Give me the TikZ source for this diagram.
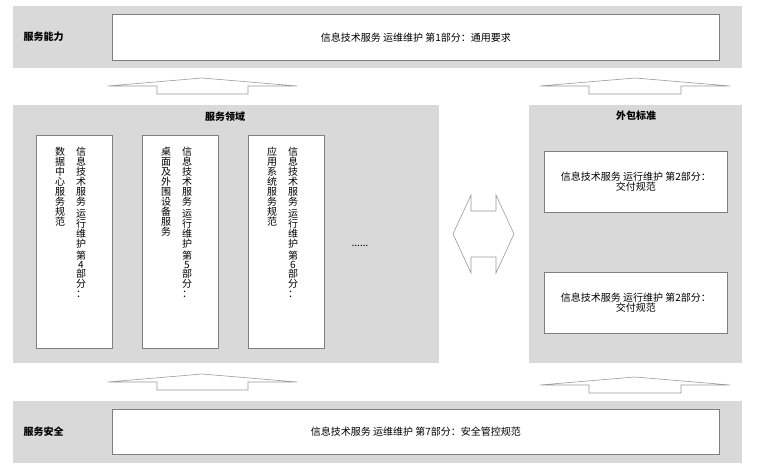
\documentclass[tikz,border=0pt]{standalone}
\usepackage{fontspec}
\usepackage{tikz}
\newfontfamily\cjk{Noto Sans CJK SC}
\definecolor{bandgray}{HTML}{D9D9D9}
\definecolor{boxgray}{HTML}{808080}
\definecolor{arrowgray}{HTML}{9A9A9A}
\tikzset{
	every node/.style={font=\cjk\fontsize{10}{10}\selectfont},
	band/.style={fill=bandgray, draw=none, anchor=north west, inner sep=0pt},
	stdbox/.style={draw=boxgray, fill=white, line width=0.6pt, anchor=north west, inner sep=0pt},
	blockarrow/.style={draw=arrowgray, fill=white, line width=0.6pt},
	vcol/.style={anchor=north, align=center, inner sep=0pt},
	bandtitle/.style={font=\cjk\bfseries\fontsize{10}{10}\selectfont}
}
\setlength{\lineskiplimit}{-10pt}

\begin{document}
\begin{tikzpicture}[x=1pt,y=-1pt]
		\useasboundingbox (0,0) rectangle (779,465);
		%%service ability
		\node[band, minimum width=729pt, minimum height=62pt] (ability) at (13,6) {};
		\node[stdbox, minimum width=607pt, minimum height=46pt] (general) at (112,14) {};
		\node (generaltxt) at (general.center) {信息技术服务 运维维护 第1部分：通用要求};
		\node[bandtitle, anchor=west] (abilitytxt) at (20,37) {服务能力};
		%%arrows up
		\draw[blockarrow] (108,86) -- (202,78) -- (297,86) -- (248,86) -- (248,94) -- (157,94) -- (157,86) -- cycle;
		\draw[blockarrow] (540,86) -- (635,78) -- (730,86) -- (681,86) -- (681,94) -- (589,94) -- (589,86) -- cycle;
		%%service domain
		\node[band, minimum width=426pt, minimum height=258pt] (domain) at (13,105) {};
		\node[bandtitle] (domaintxt) at (225,117) {服务领域};
		\node[stdbox, minimum width=76pt, minimum height=213pt] (part4) at (36,135) {};
		\node[stdbox, minimum width=76pt, minimum height=213pt] (part5) at (142,135) {};
		\node[stdbox, minimum width=76pt, minimum height=213pt] (part6) at (248,135) {};
		\node[vcol] (part4a) at (81,147) {信\\息\\技\\术\\服\\务\\[2pt]运\\行\\维\\护\\[2pt]第\\[-1pt]4\\[-1pt]部\\分\\：};
		\node[vcol] (part4b) at (60,147) {数\\据\\中\\心\\服\\务\\规\\范};
		\node[vcol] (part5a) at (187,147) {信\\息\\技\\术\\服\\务\\[2pt]运\\行\\维\\护\\[2pt]第\\[-1pt]5\\[-1pt]部\\分\\：};
		\node[vcol] (part5b) at (166,147) {桌\\面\\及\\外\\围\\设\\备\\服\\务};
		\node[vcol] (part6a) at (293,147) {信\\息\\技\\术\\服\\务\\[2pt]运\\行\\维\\护\\[2pt]第\\[-1pt]6\\[-1pt]部\\分\\：};
		\node[vcol] (part6b) at (272,147) {应\\用\\系\\统\\服\\务\\规\\范};
		\node (dots) at (360,246) {......};
		%%both ways
		\draw[blockarrow] (453,234) -- (471,195) -- (471,211) -- (496,211) -- (496,195) -- (514,234) -- (496,273) -- (496,257) -- (471,257) -- (471,273) -- cycle;
		%%outsourcing
		\node[band, minimum width=213pt, minimum height=258pt] (outsource) at (529,105) {};
		\node[bandtitle] (outsourcetxt) at (636,116) {外包标准};
		\node[stdbox, minimum width=183pt, minimum height=61pt] (deliverA) at (544,151) {};
		\node[align=center] (deliverAtxt) at (deliverA.center) {信息技术服务 运行维护 第2部分：\\交付规范};
		\node[stdbox, minimum width=183pt, minimum height=61pt] (deliverB) at (544,272) {};
		\node[align=center] (deliverBtxt) at (deliverB.center) {信息技术服务 运行维护 第2部分：\\交付规范};
		%%arrows up again
		\draw[blockarrow] (108,382) -- (202,374) -- (297,382) -- (248,382) -- (248,390) -- (157,390) -- (157,382) -- cycle;
		\draw[blockarrow] (540,385) -- (635,377) -- (730,385) -- (681,385) -- (681,393) -- (589,393) -- (589,385) -- cycle;
		%%service security
		\node[band, minimum width=729pt, minimum height=62pt] (security) at (13,401) {};
		\node[stdbox, minimum width=607pt, minimum height=45pt] (secure) at (112,409) {};
		\node (securetxt) at (secure.center) {信息技术服务 运维维护 第7部分：安全管控规范};
		\node[bandtitle, anchor=west] (securitytxt) at (20,432) {服务安全};
	\end{tikzpicture}
\end{document}
